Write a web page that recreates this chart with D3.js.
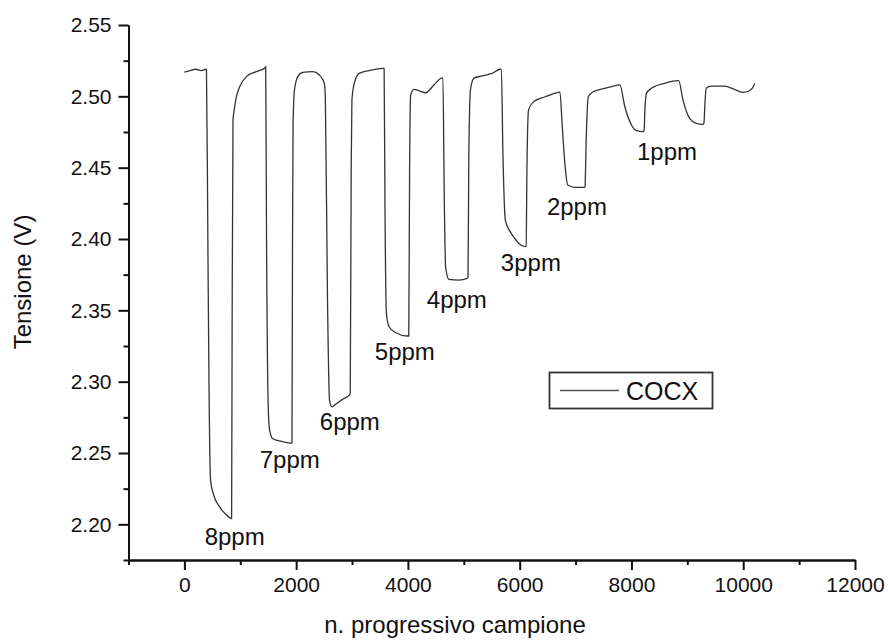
<!DOCTYPE html>
<html>
<head>
<meta charset="utf-8">
<script src="https://cdn.jsdelivr.net/npm/d3@7"></script>
<style>
  html, body { margin: 0; padding: 0; background: #fff; }
  svg { display: block; font-family: "Liberation Sans", Arial, Helvetica, sans-serif; }
</style>
</head>
<body>
<svg id="chart" width="888" height="641"></svg>
<script>
// ---- data ----
const sampleX = [
  0, 100, 200, 300, 395,
  420, 440, 468, 513, 633, 752, 800, 845,
  855, 870, 900, 930, 990, 1109, 1287, 1435, 1455,
  1470, 1506, 1530, 1583, 1761, 1911, 1925,
  1935, 1945, 1970, 2028, 2118, 2296, 2415, 2504, 2522,
  2560, 2597, 2641, 2712, 2831, 2950, 2968,
  2985, 2998, 3039, 3128, 3307, 3544, 3574,
  3590, 3615, 3663, 3782, 3989, 4015,
  4030, 4049, 4108, 4198, 4317, 4465, 4613, 4626,
  4650, 4674, 4733, 4911, 5059, 5075,
  5090, 5119, 5178, 5326, 5504, 5654, 5672,
  5700, 5743, 5832, 5921, 5980, 6099, 6115,
  6130, 6158, 6248, 6456, 6693, 6720,
  6760, 6813, 6860, 6991, 7157, 7169,
  7190, 7228, 7317, 7526, 7763, 7793,
  7882, 8000, 8089, 8209, 8226,
  8240, 8268, 8357, 8595, 8832, 8845,
  8922, 9041, 9159, 9278, 9296,
  9315, 9337, 9426, 9664, 9843, 9991, 10111, 10187, 10205
];
const tension = [
  2.517, 2.518, 2.519, 2.518, 2.519,
  2.400, 2.300, 2.231, 2.222, 2.212, 2.2066, 2.205, 2.204,
  2.350, 2.483, 2.4927, 2.4997, 2.5067, 2.5138, 2.5173, 2.5196, 2.5208,
  2.400, 2.2754, 2.265, 2.260, 2.2579, 2.2568, 2.257,
  2.400, 2.481, 2.5044, 2.5138, 2.5168, 2.5173, 2.515, 2.5091, 2.500,
  2.360, 2.2871, 2.2824, 2.2843, 2.2876, 2.2906, 2.292,
  2.450, 2.4974, 2.509, 2.5161, 2.518, 2.5196, 2.5196,
  2.420, 2.3479, 2.3385, 2.3343, 2.332, 2.332,
  2.450, 2.5009, 2.5049, 2.5039, 2.5025, 2.5079, 2.513, 2.513,
  2.430, 2.3806, 2.3717, 2.3712, 2.3724, 2.373,
  2.460, 2.5044, 2.5126, 2.5143, 2.5161, 2.519, 2.519,
  2.460, 2.4133, 2.405, 2.400, 2.397, 2.3946, 2.395,
  2.450, 2.4904, 2.4962, 2.4997, 2.5028, 2.503,
  2.480, 2.4507, 2.4378, 2.4362, 2.4362, 2.437,
  2.470, 2.4997, 2.5032, 2.5056, 2.5079, 2.508,
  2.4927, 2.4799, 2.4759, 2.4752, 2.476,
  2.490, 2.5021, 2.5056, 2.5091, 2.511, 2.511,
  2.4974, 2.4846, 2.4811, 2.4804, 2.481,
  2.495, 2.5056, 2.5072, 2.5072, 2.5049, 2.5028, 2.5039, 2.5072, 2.509
];
const concLabels = ["8ppm", "7ppm", "6ppm", "5ppm", "4ppm", "3ppm", "2ppm", "1ppm"];
const labelX = [363, 1348, 2423, 3407, 4338, 5663, 6487, 8098];
const labelY = [2.1855, 2.2395, 2.266, 2.3155, 2.3516, 2.3775, 2.4168, 2.4554];
const xMajorTicks = [0, 2000, 4000, 6000, 8000, 10000, 12000];
const xMinorTicks = [-1000, 1000, 3000, 5000, 7000, 9000, 11000];
const yMajorTicks = [2.20, 2.25, 2.30, 2.35, 2.40, 2.45, 2.50, 2.55];
const yMinorTicks = [2.175, 2.225, 2.275, 2.325, 2.375, 2.425, 2.475, 2.525];
const seriesName = "COCX";
const xTitle = "n. progressivo campione";
const yTitle = "Tensione (V)";

// ---- drawing ----
const svg = d3.select("#chart");
const x = d3.scaleLinear().domain([-1000, 12000]).range([128.5, 855]);
const y = d3.scaleLinear().domain([2.175, 2.55]).range([560, 25]);

const axisColor = "#111";

// y axis
const yMinor = svg.append("g").attr("transform", `translate(${x(-1000)},0)`)
  .call(d3.axisLeft(y).tickValues(yMinorTicks).tickSize(5).tickSizeOuter(0).tickFormat(""));
const yMajor = svg.append("g").attr("transform", `translate(${x(-1000)},0)`)
  .call(d3.axisLeft(y).tickValues(yMajorTicks).tickSize(10).tickSizeOuter(0).tickPadding(7).tickFormat(d3.format(".2f")));
// x axis
const xMinor = svg.append("g").attr("transform", `translate(0,${y(2.175)})`)
  .call(d3.axisBottom(x).tickValues(xMinorTicks).tickSize(5).tickSizeOuter(0).tickFormat(""));
const xMajor = svg.append("g").attr("transform", `translate(0,${y(2.175)})`)
  .call(d3.axisBottom(x).tickValues(xMajorTicks).tickSize(10).tickSizeOuter(0).tickPadding(7).tickFormat(d3.format("d")));

[yMinor, yMajor, xMinor, xMajor].forEach(g => {
  g.selectAll("path.domain").attr("stroke", axisColor).attr("stroke-width", 2);
  g.selectAll(".tick line").attr("stroke", axisColor).attr("stroke-width", 2);
  g.selectAll(".tick text").attr("fill", "#111").style("font-size", "21px")
    .style("font-family", '"Liberation Sans", Arial, sans-serif');
});

// axis titles
svg.append("text")
  .attr("x", 455).attr("y", 633)
  .attr("text-anchor", "middle")
  .style("font-size", "24px").attr("fill", "#111")
  .text(xTitle);
svg.append("text")
  .attr("transform", `translate(31,${282}) rotate(-90)`)
  .attr("text-anchor", "middle")
  .style("font-size", "24px").attr("fill", "#111")
  .text(yTitle);

// series line
const pts = sampleX.map((d, i) => [d, tension[i]]);
const line = d3.line().x(d => x(d[0])).y(d => y(d[1])).curve(d3.curveMonotoneX);
svg.append("path")
  .datum(pts)
  .attr("d", line)
  .attr("fill", "none")
  .attr("stroke", "#333")
  .attr("stroke-width", 1.3)
  .attr("stroke-linejoin", "round");

// concentration labels
svg.append("g").selectAll("text")
  .data(concLabels)
  .join("text")
  .attr("x", (d, i) => x(labelX[i]))
  .attr("y", (d, i) => y(labelY[i]))
  .style("font-size", "24px").attr("fill", "#111")
  .text(d => d);

// legend
const lg = svg.append("g");
lg.append("rect")
  .attr("x", 549.5).attr("y", 372.5).attr("width", 163).attr("height", 36)
  .attr("fill", "#fff").attr("stroke", "#333").attr("stroke-width", 1.8);
lg.append("line")
  .attr("x1", 560).attr("x2", 619).attr("y1", 390.5).attr("y2", 390.5)
  .attr("stroke", "#555").attr("stroke-width", 1.3);
lg.append("text")
  .attr("x", 626).attr("y", 399.5)
  .style("font-size", "25px").attr("fill", "#111")
  .text(seriesName);
</script>
</body>
</html>
